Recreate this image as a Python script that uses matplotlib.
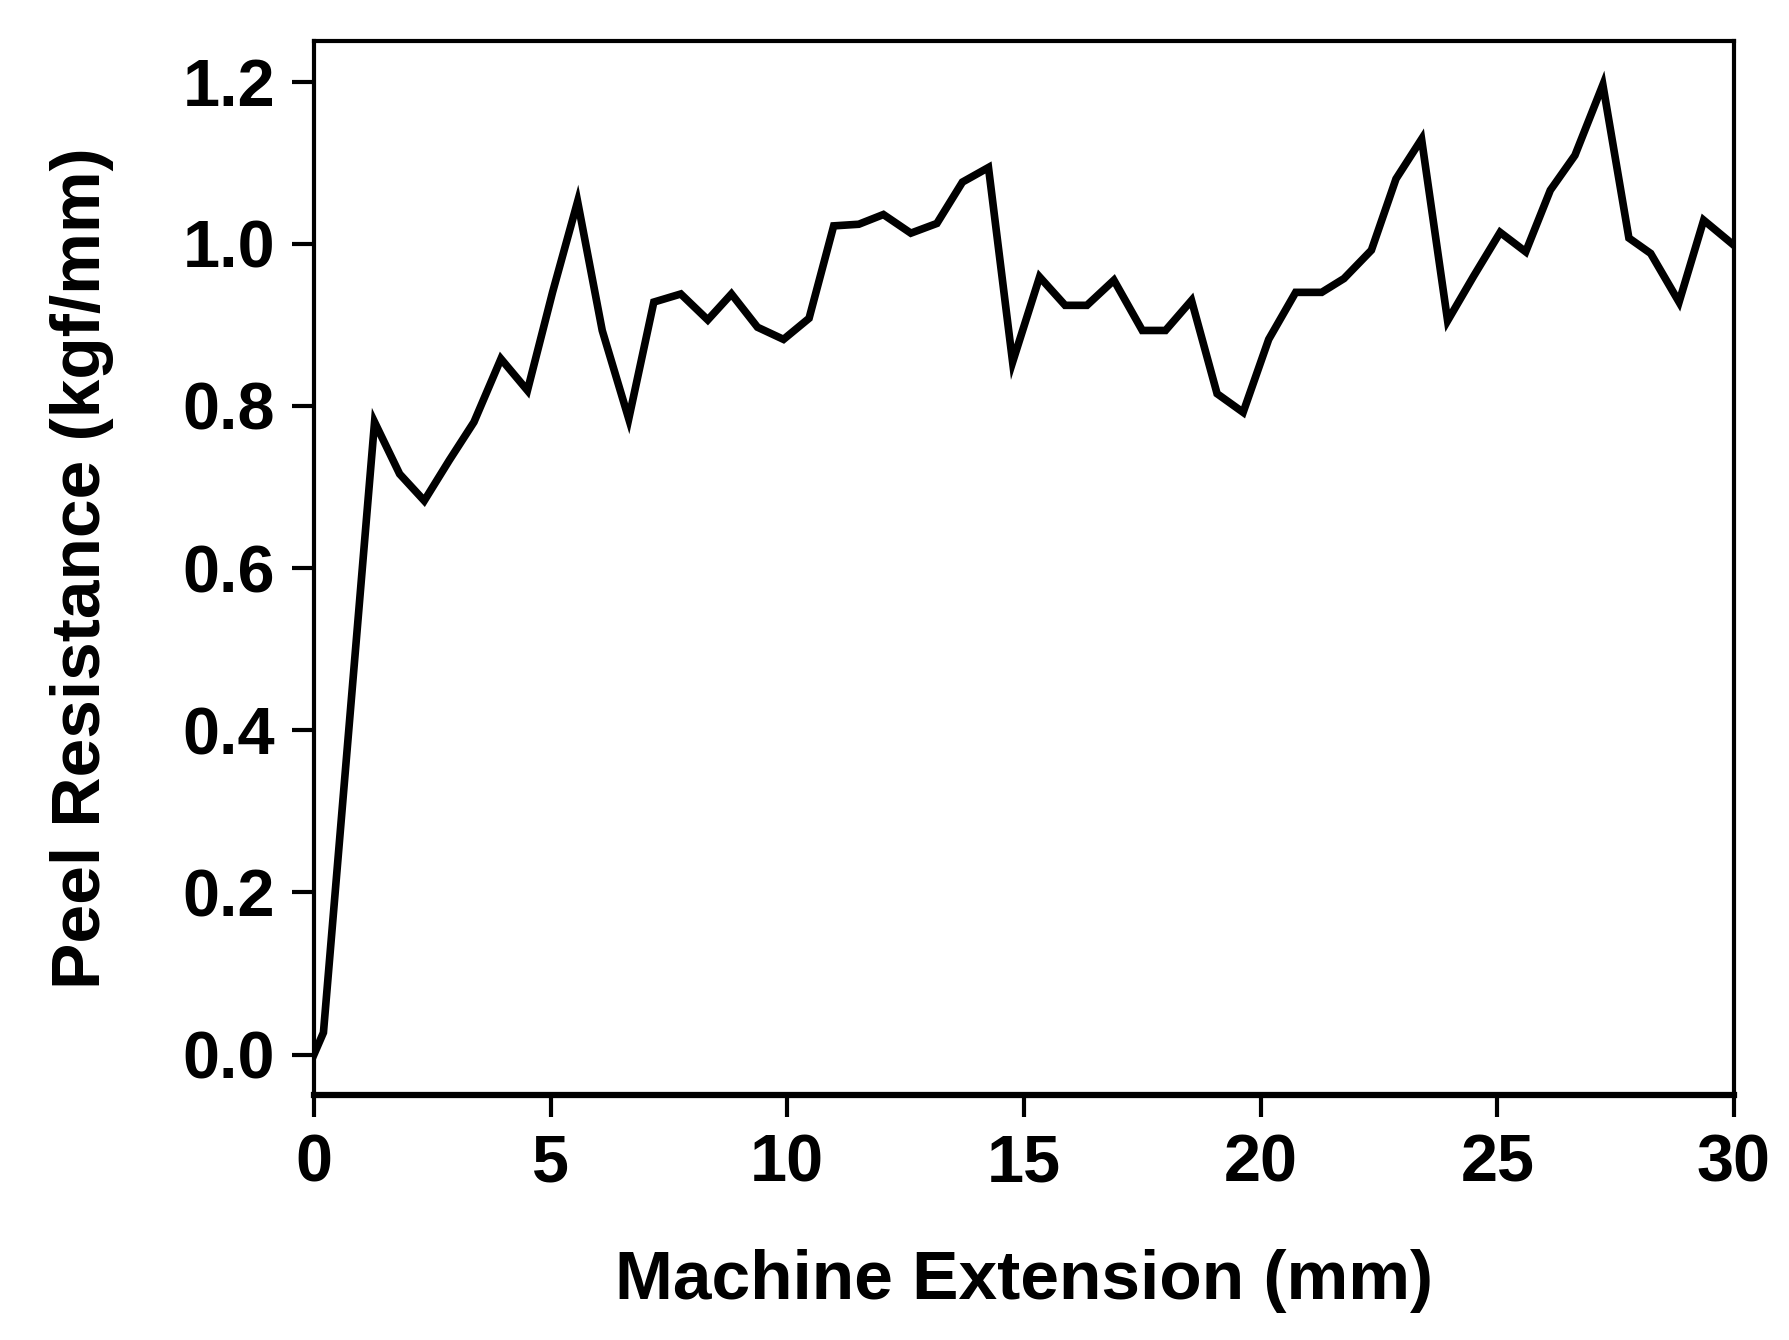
import matplotlib
matplotlib.use("Agg")
import matplotlib.pyplot as plt

plt.rcParams['font.family'] = ['Liberation Sans', 'DejaVu Sans']
plt.rcParams['font.weight'] = 'bold'

# peel test curve
extension = [0, 0.2, 1.28, 1.81, 2.33, 2.86, 3.38, 3.95, 4.51, 5.04,
             5.57, 6.09, 6.65, 7.18, 7.75, 8.32, 8.82, 9.37, 9.92, 10.46,
             10.98, 11.51, 12.03, 12.61, 13.16, 13.7, 14.25, 14.76, 15.33, 15.87,
             16.33, 16.9, 17.5, 17.99, 18.54, 19.08, 19.63, 20.17, 20.74, 21.29,
             21.76, 22.34, 22.86, 23.4, 23.95, 24.5, 25.06, 25.6, 26.12, 26.64,
             27.23, 27.78, 28.24, 28.84, 29.36, 30.0]
resistance = [0, 0.027, 0.78, 0.716, 0.683, 0.733, 0.78, 0.858, 0.819, 0.94,
              1.052, 0.893, 0.784, 0.928, 0.938, 0.906, 0.938, 0.897, 0.882, 0.908,
              1.022, 1.024, 1.036, 1.013, 1.025, 1.076, 1.094, 0.854, 0.959, 0.924,
              0.924, 0.955, 0.893, 0.893, 0.93, 0.815, 0.792, 0.882, 0.94, 0.94,
              0.957, 0.992, 1.08, 1.129, 0.905, 0.96, 1.014, 0.99, 1.066, 1.109,
              1.196, 1.007, 0.988, 0.928, 1.029, 0.998]

x_ticks = [0, 5, 10, 15, 20, 25, 30]
y_ticks = [0.0, 0.2, 0.4, 0.6, 0.8, 1.0, 1.2]

fig = plt.figure(figsize=(17.9, 13.4), dpi=100)
ax = fig.add_axes([0.1754, 0.1828, 0.7933, 0.7866])

ax.plot(extension, resistance, color='black', linewidth=5.5, solid_joinstyle='miter')

ax.set_xlim(0, 30)
ax.set_ylim(-0.05, 1.25)
ax.set_xticks(x_ticks)
ax.set_yticks(y_ticks)
ax.set_yticklabels(["%.1f" % v for v in y_ticks])

for s in ax.spines.values():
    s.set_linewidth(3)
ax.spines['bottom'].set_linewidth(4.5)

ax.tick_params(direction='out', length=16, width=3, labelsize=48)
ax.tick_params(axis='x', pad=12)
ax.tick_params(axis='y', pad=12)

ax.set_xlabel("Machine Extension (mm)", fontsize=50, fontweight='bold')
ax.set_ylabel("Peel Resistance (kgf/mm)", fontsize=50, fontweight='bold')
ax.xaxis.set_label_coords(0.5, -0.146)
ax.yaxis.set_label_coords(-0.141, 0.5)

fig.savefig("out.png", dpi=100)
